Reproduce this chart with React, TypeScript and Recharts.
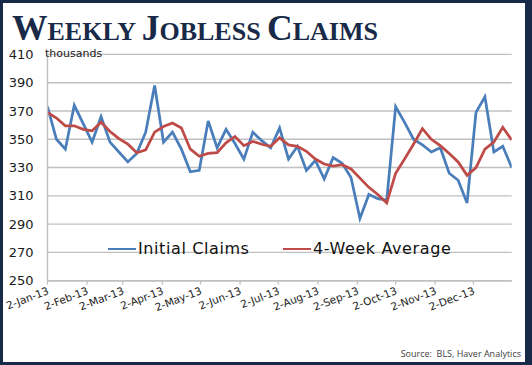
import React from 'react';
import { LineChart, Line, XAxis, YAxis, CartesianGrid, Legend } from 'recharts';

const weekDates = [
  '2013-01-02', '2013-01-09', '2013-01-16', '2013-01-23', '2013-01-30',
  '2013-02-06', '2013-02-13', '2013-02-20', '2013-02-27',
  '2013-03-06', '2013-03-13', '2013-03-20', '2013-03-27',
  '2013-04-03', '2013-04-10', '2013-04-17', '2013-04-24',
  '2013-05-01', '2013-05-08', '2013-05-15', '2013-05-22', '2013-05-29',
  '2013-06-05', '2013-06-12', '2013-06-19', '2013-06-26',
  '2013-07-03', '2013-07-10', '2013-07-17', '2013-07-24', '2013-07-31',
  '2013-08-07', '2013-08-14', '2013-08-21', '2013-08-28',
  '2013-09-04', '2013-09-11', '2013-09-18', '2013-09-25',
  '2013-10-02', '2013-10-09', '2013-10-16', '2013-10-23', '2013-10-30',
  '2013-11-06', '2013-11-13', '2013-11-20', '2013-11-27',
  '2013-12-04', '2013-12-11', '2013-12-18', '2013-12-25',
  '2014-01-01',
];

const initialClaims = [
  373, 350, 343, 374, 361, 348, 366, 348, 341, 334,
  340, 355, 388, 348, 355, 343, 327, 328, 363, 344,
  357, 347, 336, 355, 349, 344, 358, 336, 345, 328,
  335, 322, 337, 333, 323, 294, 311, 308, 307, 373,
  362, 350, 346, 341, 344, 326, 321, 305, 369, 380,
  341, 345, 330,
];

const fourWeekAverage = [
  369, 365, 359.5, 359.5, 357, 356, 362, 355.5, 350.5, 346.5,
  340.5, 342.5, 355, 359, 361.5, 358, 343, 338, 340, 340.5,
  347.5, 352, 345.5, 348.5, 346.5, 345, 351, 346, 345, 341.5,
  336, 332.5, 331, 332, 329, 322.5, 316, 311, 305, 326,
  336, 346.5, 357.5, 350, 345.5, 340, 334, 324.5, 330, 343,
  348, 358.5, 349.5,
];

const tickDates = [
  '2013-01-02', '2013-02-02', '2013-03-02', '2013-04-02', '2013-05-02', '2013-06-02',
  '2013-07-02', '2013-08-02', '2013-09-02', '2013-10-02', '2013-11-02', '2013-12-02',
];

const tickLabels = [
  '2-Jan-13', '2-Feb-13', '2-Mar-13', '2-Apr-13', '2-May-13', '2-Jun-13',
  '2-Jul-13', '2-Aug-13', '2-Sep-13', '2-Oct-13', '2-Nov-13', '2-Dec-13',
];

const yTicks = [250, 270, 290, 310, 330, 350, 370, 390, 410];

const seriesNames = ['Initial Claims', '4-Week Average'];

const toTime = (s: string) => Date.parse(s + 'T00:00:00Z');
const tickTimes = tickDates.map(toTime);

const data = weekDates.map((d, i) => ({
  t: toTime(d),
  claims: initialClaims[i],
  avg: fourWeekAverage[i],
}));

const BLUE = '#4a7ebb';
const RED = '#be4b48';
const GRID = '#c0c0c0';
const NAVY = '#182a48';

const XTick = (props: any) => {
  const { x, y, payload } = props;
  const idx = tickTimes.indexOf(payload.value);
  const label = idx >= 0 ? tickLabels[idx] : '';
  const tx = x + 2;
  const ty = y + 7;
  return (
    <text
      x={tx}
      y={ty}
      textAnchor="end"
      transform={`rotate(-21, ${tx}, ${ty})`}
      fontSize={10.5}
      fontFamily="DejaVu Sans"
      fill="#1a1a1a"
    >
      {label}
    </text>
  );
};

const LegendContent = (props: any) => {
  const { payload } = props;
  const lefts = [0, 175];
  const items = [...(payload || [])].sort(
    (a: any, b: any) => seriesNames.indexOf(a.value) - seriesNames.indexOf(b.value)
  );
  return (
    <div style={{ position: 'relative', width: 400, height: 24 }}>
      {items.map((p: any, i: number) => (
        <div
          key={p.value}
          style={{
            position: 'absolute',
            left: lefts[i],
            top: 0,
            display: 'flex',
            alignItems: 'center',
            whiteSpace: 'nowrap',
          }}
        >
          <span style={{ display: 'inline-block', width: 28, height: 2.5, background: p.color, marginRight: 2 }} />
          <span
            style={{
              fontFamily: 'DejaVu Sans',
              fontSize: 16,
              letterSpacing: 0.6,
              color: '#111',
              lineHeight: '24px',
            }}
          >
            {p.value}
          </span>
        </div>
      ))}
    </div>
  );
};

export default function App() {
  return (
    <div
      style={{
        position: 'fixed',
        left: 0,
        top: 0,
        width: 532,
        height: 365,
        background: '#fff',
        overflow: 'hidden',
      }}
    >
      <LineChart
        width={532}
        height={365}
        data={data}
        margin={{ top: 54.4, right: 20.3, bottom: 24.3, left: 7.5 }}
      >
        <CartesianGrid vertical={false} stroke={GRID} strokeWidth={1.4} />
        <XAxis
          dataKey="t"
          type="number"
          scale="linear"
          domain={[toTime(weekDates[0]), toTime(weekDates[weekDates.length - 1])]}
          ticks={tickTimes}
          interval={0}
          tickSize={4}
          tickMargin={2}
          height={60}
          axisLine={{ stroke: GRID, strokeWidth: 1.4 }}
          tickLine={{ stroke: GRID, strokeWidth: 1.2 }}
          tick={<XTick />}
          allowDataOverflow
        />
        <YAxis
          type="number"
          domain={[250, 410]}
          ticks={yTicks}
          interval={0}
          width={40}
          tickSize={0}
          tickMargin={14}
          tickLine={false}
          axisLine={{ stroke: GRID, strokeWidth: 1.4 }}
          tick={{ fontSize: 13, fontFamily: 'DejaVu Sans', fill: '#1a1a1a' }}
          allowDataOverflow
        />
        <Legend
          layout="horizontal"
          verticalAlign="middle"
          align="center"
          wrapperStyle={{ position: 'absolute', left: 108, top: 237, width: 400, height: 24 }}
          content={<LegendContent />}
        />
        <Line
          type="linear"
          dataKey="claims"
          name={seriesNames[0]}
          stroke={BLUE}
          strokeWidth={2.75}
          dot={false}
          activeDot={false}
          isAnimationActive={false}
        />
        <Line
          type="linear"
          dataKey="avg"
          name={seriesNames[1]}
          stroke={RED}
          strokeWidth={2.75}
          dot={false}
          activeDot={false}
          isAnimationActive={false}
        />
      </LineChart>

      <div
        style={{
          position: 'absolute',
          left: 12,
          top: 6,
          fontFamily: 'Liberation Serif',
          fontWeight: 700,
          color: NAVY,
          lineHeight: '44px',
          whiteSpace: 'nowrap',
        }}
      >
        <span style={{ fontSize: 35.5 }}>W</span>
        <span style={{ fontSize: 26 }}>EEKLY </span>
        <span style={{ fontSize: 35.5 }}>J</span>
        <span style={{ fontSize: 26 }}>OBLESS </span>
        <span style={{ fontSize: 35.5 }}>C</span>
        <span style={{ fontSize: 26 }}>LAIMS</span>
      </div>

      <div
        style={{
          position: 'absolute',
          left: 45,
          top: 47,
          fontFamily: 'DejaVu Sans',
          fontSize: 11,
          color: '#1a1a1a',
          lineHeight: '14px',
          whiteSpace: 'nowrap',
        }}
      >
        thousands
      </div>

      <div
        style={{
          position: 'absolute',
          right: 11,
          top: 347,
          fontFamily: 'Open Sans',
          fontSize: 9,
          color: '#404040',
          lineHeight: '13px',
          whiteSpace: 'pre',
        }}
      >
        {'Source:  BLS, Haver Analytics'}
      </div>

      <div
        style={{
          position: 'absolute',
          left: 0,
          top: 0,
          width: 532,
          height: 365,
          boxSizing: 'border-box',
          borderTop: `3px solid ${NAVY}`,
          borderLeft: `3px solid ${NAVY}`,
          borderBottom: `3px solid ${NAVY}`,
          borderRight: `7px solid ${NAVY}`,
          pointerEvents: 'none',
        }}
      />
    </div>
  );
}
